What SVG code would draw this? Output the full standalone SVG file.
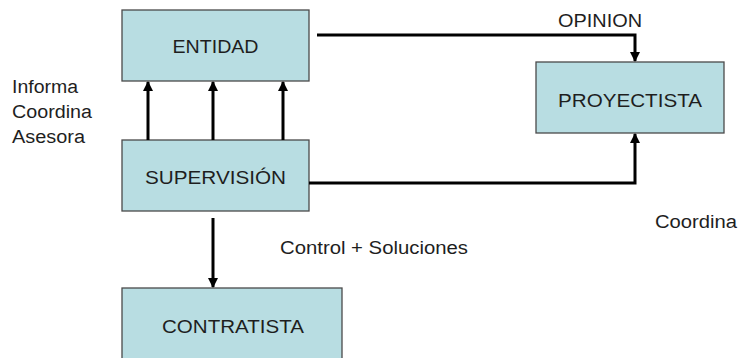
<svg xmlns="http://www.w3.org/2000/svg" width="738" height="358" viewBox="0 0 738 358">
<style>
.box{fill:#b8dde2;stroke:#4a4a4a;stroke-width:1.3}
.lbl{font-family:"Liberation Sans",Arial,sans-serif;font-size:18px;fill:#1e1e1e;text-anchor:middle}
.txt{font-family:"Liberation Sans",Arial,sans-serif;font-size:18px;fill:#1e1e1e}
.con{fill:none;stroke:#000;stroke-width:3}
</style>
<defs>
<marker id="ah" viewBox="0 0 10 10" refX="9" refY="5" markerWidth="3.4" markerHeight="3.4" orient="auto" markerUnits="strokeWidth">
<path d="M0,0 L10,5 L0,10 z" fill="#000"/>
</marker>
</defs>
<g id="entidad"><rect class="box" x="122" y="10" width="187" height="71"/><text class="lbl" x="215.5" y="53" textLength="86" lengthAdjust="spacingAndGlyphs">ENTIDAD</text></g>
<g id="supervision"><rect class="box" x="122" y="140" width="187" height="71"/><text class="lbl" x="215.5" y="184" textLength="141" lengthAdjust="spacingAndGlyphs">SUPERVISIÓN</text></g>
<g id="proyectista"><rect class="box" x="536" y="62" width="188" height="71"/><text class="lbl" x="630" y="107" textLength="144" lengthAdjust="spacingAndGlyphs">PROYECTISTA</text></g>
<g id="contratista"><rect class="box" x="122" y="288" width="220" height="80"/><text class="lbl" x="233" y="333" textLength="142" lengthAdjust="spacingAndGlyphs">CONTRATISTA</text></g>
<g id="connectors">
<path class="con" d="M148,140 V82" marker-end="url(#ah)"/>
<path class="con" d="M213,140 V82" marker-end="url(#ah)"/>
<path class="con" d="M283,140 V82" marker-end="url(#ah)"/>
<path class="con" d="M317,35 H635 V61" marker-end="url(#ah)"/>
<path class="con" d="M309,183 H635 V134" marker-end="url(#ah)"/>
<path class="con" d="M213,218 V287" marker-end="url(#ah)"/>
</g>
<g id="labels">
<text class="txt" x="558" y="27" font-size="16" textLength="84" lengthAdjust="spacingAndGlyphs">OPINION</text>
<text class="txt" x="12" y="93" textLength="66" lengthAdjust="spacingAndGlyphs">Informa</text>
<text class="txt" x="12" y="118" textLength="80" lengthAdjust="spacingAndGlyphs">Coordina</text>
<text class="txt" x="12" y="143" textLength="73" lengthAdjust="spacingAndGlyphs">Asesora</text>
<text class="txt" x="280" y="254" textLength="188" lengthAdjust="spacingAndGlyphs">Control + Soluciones</text>
<text class="txt" x="655" y="228" textLength="82" lengthAdjust="spacingAndGlyphs">Coordina</text>
</g>
</svg>
